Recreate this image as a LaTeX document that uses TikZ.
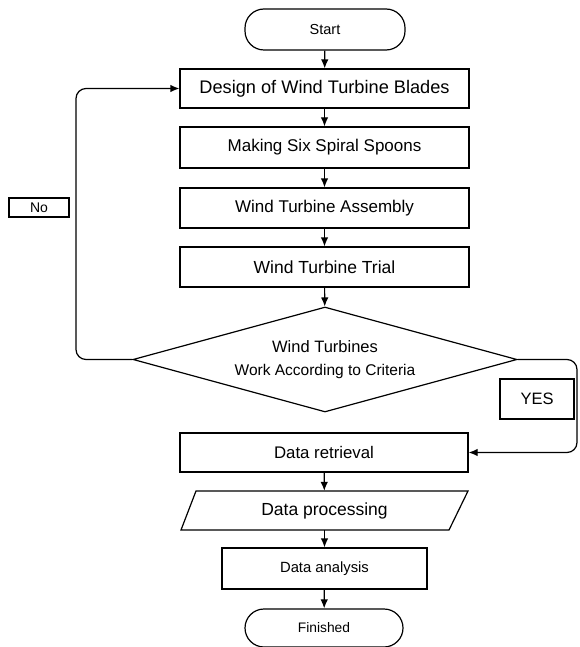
\documentclass[tikz,border=0pt]{standalone}
\usepackage{fontspec}
\setmainfont{Liberation Sans}
\usetikzlibrary{arrows.meta,shapes.geometric}
\tikzset{
  box/.style={draw, line width=1.2pt, inner sep=0pt, align=center},
  term/.style={box, rounded corners=19pt},
  flow/.style={line width=1.2pt, -{Latex[length=9pt,width=7.5pt]}},
  loop/.style={flow, rounded corners=10pt},
}
\newcommand{\fs}[1]{\fontsize{#1}{#1}\selectfont}
\begin{document}
\begin{tikzpicture}[x=1pt,y=-1pt]
\useasboundingbox (0,0) rectangle (579,647);
\node[term, minimum width=160pt, minimum height=41pt, font=\fs{14.5}] (start) at (325,29.5) {Start};
\node[box, minimum width=289pt, minimum height=39pt, font=\fs{18.2}] (design) at (324.5,88.5) {Design of Wind Turbine Blades};
\node[box, minimum width=289pt, minimum height=41pt, font=\fs{17}] (making) at (324.5,147.5) {Making Six Spiral Spoons};
\node[box, minimum width=289pt, minimum height=40pt, font=\fs{17}] (assembly) at (324.5,208) {Wind Turbine Assembly};
\node[box, minimum width=289pt, minimum height=40pt, font=\fs{17.5}] (trial) at (324.5,267) {Wind Turbine Trial};
\node[draw, line width=1.2pt, shape=diamond, aspect=3.66, inner sep=0pt, minimum width=384pt, minimum height=105pt, align=center, font=\fontsize{16.5}{23}\selectfont] (dec) at (325,359.5)
  {Wind Turbines\\{\fontsize{15.5}{23}\selectfont Work According to Criteria}};
\node[box, minimum width=74pt, minimum height=40pt, font=\fs{16.5}] (yes) at (537,399) {YES};
\node[box, minimum width=60pt, minimum height=19pt, font=\fs{14}] (no) at (39,207.5) {No};
\node[box, minimum width=288pt, minimum height=39pt, font=\fs{16.8}] (retr) at (324,452.5) {Data retrieval};
\node[inner sep=0pt, minimum width=272pt, minimum height=39pt, font=\fs{17.5}] (proc) at (324.5,510.5) {Data processing};
\draw[line width=1.2pt, line join=miter] (196,491) coordinate (p1) -- (468,491) coordinate (p2) -- (449,530) coordinate (p3) -- (181,530) coordinate (p4) -- cycle;
\node[box, minimum width=205pt, minimum height=41pt, font=\fs{14.8}] (anal) at (324.5,568.5) {Data analysis};
\node[term, minimum width=158pt, minimum height=38pt, font=\fs{13.8}] (fin) at (324,628) {Finished};
\draw[flow] (start) -- (design);
\draw[flow] (design) -- (making);
\draw[flow] (making) -- (assembly);
\draw[flow] (assembly) -- (trial);
\draw[flow] (trial) -- (dec);
\draw[flow] (retr) -- (proc);
\draw[flow] (proc) -- (anal);
\draw[flow] (anal) -- (fin);
\draw[loop] (dec.west) -- (76,359.5) -- (76,88.5) -- (design.west);
\draw[loop] (dec.east) -- (577,359.5) -- (577,452.5) -- (retr.east);
\end{tikzpicture}
\end{document}
